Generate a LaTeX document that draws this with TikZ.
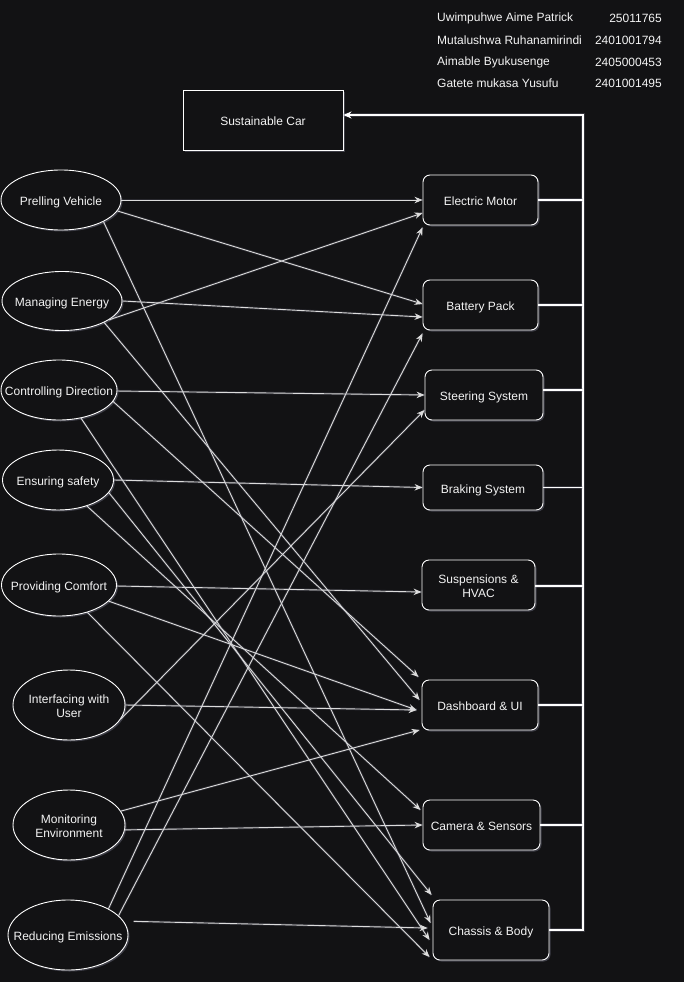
\documentclass[tikz,border=0pt]{standalone}
\usepackage{fontspec}
\setmainfont{Liberation Sans}
\usetikzlibrary{arrows.meta,shapes.geometric,shadows}

\definecolor{bg}{HTML}{121214}
\definecolor{ink}{HTML}{F4F4F4}
\definecolor{wire}{HTML}{DCDCDC}
\definecolor{halo}{HTML}{8E90A6}

% zero-width label, set slightly low, so each shape keeps its own size
\newcommand{\flabel}[1]{\makebox[0pt]{\raisebox{-3pt}[\height][\depth]{\begin{tabular}{@{}c@{}}#1\end{tabular}}}}

\begin{document}
\begin{tikzpicture}[x=1pt,y=-1pt,
  font=\fontsize{12}{14}\selectfont,
  every node/.style={text=ink},
  glow/.style={drop shadow={fill=halo,opacity=0.35,shadow xshift=1.5pt,shadow yshift=-1.5pt}},
  func/.style={ellipse,draw=white,line width=0.9pt,fill=bg,inner sep=0pt,glow},
  part/.style={rectangle,rounded corners=7pt,draw=white,line width=0.9pt,fill=bg,inner sep=0pt,glow},
  goal/.style={rectangle,draw=white,line width=0.9pt,fill=bg,inner sep=0pt,glow},
  info/.style={inner sep=0pt},
  wire/.style={draw=wire,line width=0.9pt,-{Stealth[length=8pt,width=6.5pt]},
    preaction={draw=halo,line width=2.6pt,opacity=0.18,arrows=-}},
  bus/.style={draw=white,line width=1.3pt,preaction={draw=halo,line width=3.4pt,opacity=0.25,arrows=-}},
]
\path[use as bounding box,fill=bg] (0,0) rectangle (684,982);

% team list
\node[info,anchor=west] (n1) at (437,18) {Uwimpuhwe Aime Patrick};
\node[info,anchor=east] (i1) at (662,18) {25011765};
\node[info,anchor=west] (n2) at (437,40.5) {Mutalushwa Ruhanamirindi};
\node[info,anchor=east] (i2) at (662,40.5) {2401001794};
\node[info,anchor=west] (n3) at (437,62.5) {Aimable Byukusenge};
\node[info,anchor=east] (i3) at (662,62.5) {2405000453};
\node[info,anchor=west] (n4) at (437,83.5) {Gatete mukasa Yusufu};
\node[info,anchor=east] (i4) at (662,83.5) {2401001495};

% system
\node[goal,minimum width=160pt,minimum height=60pt] (car) at (263,120) {\flabel{Sustainable Car}};

% functions
\node[func,minimum width=120pt,minimum height=60pt] (pv) at (61,200) {\flabel{Prelling Vehicle}};
\node[func,minimum width=120pt,minimum height=59pt] (me) at (62,301) {\flabel{Managing Energy}};
\node[func,minimum width=116pt,minimum height=60pt] (cd) at (59,390) {\flabel{Controlling Direction}};
\node[func,minimum width=111pt,minimum height=60pt] (es) at (58,480) {\flabel{Ensuring safety}};
\node[func,minimum width=115pt,minimum height=62pt] (pc) at (59,585) {\flabel{Providing Comfort}};
\node[func,minimum width=112pt,minimum height=70pt] (iu) at (69,705) {\flabel{Interfacing with\\User}};
\node[func,minimum width=112pt,minimum height=70pt] (mo) at (69,825) {\flabel{Monitoring\\Environment}};
\node[func,minimum width=120pt,minimum height=70pt] (re) at (68,935) {\flabel{Reducing Emissions}};

% components
\node[part,minimum width=115pt,minimum height=50pt] (em) at (480.5,200) {\flabel{Electric Motor}};
\node[part,minimum width=115pt,minimum height=50pt] (bp) at (480.5,305) {\flabel{Battery Pack}};
\node[part,minimum width=118pt,minimum height=50pt] (ss) at (484,395) {\flabel{Steering System}};
\node[part,minimum width=120pt,minimum height=45pt] (bs) at (483,487.5) {\flabel{Braking System}};
\node[part,minimum width=113pt,minimum height=50pt] (sh) at (478.5,585) {\flabel{Suspensions \&\\HVAC}};
\node[part,minimum width=116pt,minimum height=50pt] (du) at (480,705) {\flabel{Dashboard \& UI}};
\node[part,minimum width=117pt,minimum height=50pt] (cs) at (481.5,825) {\flabel{Camera \& Sensors}};
\node[part,minimum width=116pt,minimum height=60pt] (cb) at (491,930) {\flabel{Chassis \& Body}};

% collector on the right
\coordinate (bustop) at (583,115);
\draw[bus,-{Stealth[length=8pt,width=7pt]}] (cb.east) -| (bustop) -- ([yshift=5pt]car.east);
\draw[bus] (em.east) -- (em.east -| bustop);
\draw[bus] (bp.east) -- (bp.east -| bustop);
\draw[bus] ([yshift=5pt]ss.east) -- ([yshift=5pt]ss.east -| bustop);
\draw[bus] (bs.east) -- (bs.east -| bustop);
\draw[bus] ([yshift=-1pt]sh.east) -- ([yshift=-1pt]sh.east -| bustop);
\draw[bus] (du.east) -- (du.east -| bustop);
\draw[bus] (cs.east) -- (cs.east -| bustop);

% function to component links
\draw[wire] (pv.0) -- (em.west);
\draw[wire] (pv.-11.5) -- ([yshift=1pt]bp.west);
\draw[wire] (pv.-27.6) -- ([xshift=-2pt,yshift=7pt]cb.west);
\draw[wire] (me.-22.9) -- ([yshift=-13pt]em.west);
\draw[wire] (me.0) -- ([yshift=-12pt]bp.west);
\draw[wire] (me.-27) -- ([xshift=-2pt,yshift=5pt]du.west);
\draw[wire] (cd.-1) -- (ss.west);
\draw[wire] (cd.-12.6) -- ([xshift=-3pt,yshift=28pt]du.west);
\draw[wire] (cd.-52.5) -- ([xshift=-3pt,yshift=-10pt]cb.west);
\draw[wire] (es.0) -- (bs.west);
\draw[wire] (es.-42) -- ([xshift=-2pt,yshift=15pt]cs.west);
\draw[wire] (es.-14.6) -- ([xshift=-1pt,yshift=35pt]cb.west);
\draw[wire] (pc.-1) -- ([yshift=-7pt]sh.west);
\draw[wire] (pc.-18.8) -- ([xshift=-5pt,yshift=-5pt]du.west);
\draw[wire] (pc.-44) -- ([xshift=-3pt,yshift=-27pt]cb.west);
\draw[wire] (iu.0) -- ([xshift=-5pt,yshift=-5pt]du.west);
\draw[wire] (iu.-15.5) -- ([yshift=-15pt]ss.west);
\draw[wire] (mo.15.5) -- ([xshift=-2pt,yshift=-25pt]du.west);
\draw[wire] (mo.-5) -- (cs.west);
\draw[wire] (re.33.7) -- ([yshift=-2pt]em.south west);
\draw[wire] (re.21.8) -- ([yshift=-3pt]bp.south west);
\draw[wire,shorten <=10pt] (re.14) -- ([xshift=-5pt,yshift=2pt]cb.west);
\end{tikzpicture}
\end{document}
